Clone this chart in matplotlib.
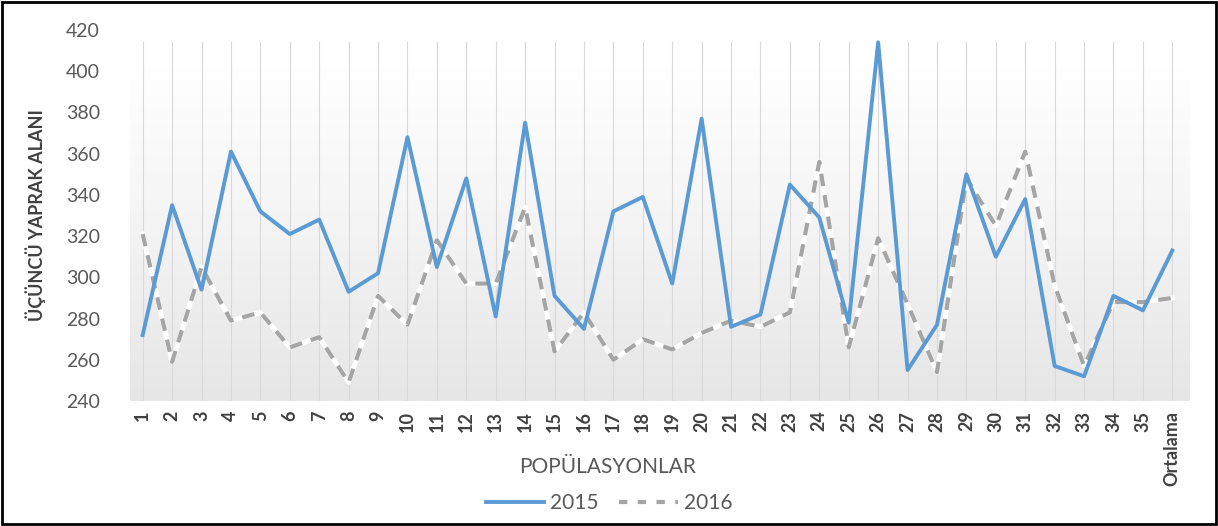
import numpy as np
import matplotlib
matplotlib.use("Agg")
import matplotlib.pyplot as plt
from matplotlib.patches import Rectangle
from matplotlib.lines import Line2D
from matplotlib.colors import LinearSegmentedColormap

categories = [str(i) for i in range(1, 36)] + ["Ortalama"]
y2015 = [272, 335, 294, 361, 332, 321, 328, 293, 302, 368, 305, 348,
         281, 375, 291, 275, 332, 339, 297, 377, 276, 282, 345, 329,
         278, 414, 255, 277, 350, 310, 338, 257, 252, 291, 284, 313]
y2016 = [321, 259, 305, 279, 283, 266, 271, 249, 291, 277, 318, 297,
         297, 334, 264, 283, 260, 270, 265, 273, 279, 276, 283, 356,
         266, 319, 287, 254, 348, 325, 361, 296, 257, 288, 288, 290]
yticks = [240, 260, 280, 300, 320, 340, 360, 380, 400, 420]

plt.rcParams["font.family"] = ["Lato", "DejaVu Sans"]

fig = plt.figure(figsize=(12.18, 5.26), dpi=100)
ax = fig.add_axes([0.107, 0.2376, 0.870, 0.7054])
x = np.arange(len(categories))

# gradient background (plot area)
grad = np.linspace(0, 1, 256).reshape(-1, 1)
cmap = LinearSegmentedColormap.from_list("g", [(0, "#e6e6e6"), (0.6, "#f6f6f6"), (1.0, "#ffffff")])
ax.imshow(grad, extent=[0, 1, 0, 0.905], transform=ax.transAxes, origin="lower",
          aspect="auto", cmap=cmap, zorder=0)

for xi in x:
    ax.plot([xi, xi], [240, 414], color="#d9d9d9", lw=0.8, zorder=1)

ax.plot(x, y2016, color="white", lw=3.5, zorder=2)
ax.plot(x, y2016, color="#a5a5a5", lw=3, ls=(0, (3, 2.2)), zorder=3)
ax.plot(x, y2015, color="#5b9bd5", lw=2.8, zorder=4)

ax.set_xlim(-0.42, 35.6)
ax.set_ylim(240, 420)
ax.set_yticks(yticks)
ax.set_yticklabels([str(v) for v in yticks], fontsize=14, color="#595959")
ax.set_xticks(x)
ax.set_xticklabels(categories, rotation=90, fontsize=13, color="#404040", fontweight="bold")
ax.tick_params(axis="x", length=0, pad=7)
ax.tick_params(axis="y", length=0, pad=22)
for s in ax.spines.values():
    s.set_visible(False)

ax.set_ylabel("ÜÇÜNCÜ YAPRAK ALANI", fontsize=13, fontweight="bold", color="#404040", labelpad=14)
fig.text(0.499, 0.112, "POPÜLASYONLAR", ha="center", va="center", fontsize=15, color="#595959")

handles = [Line2D([], [], color="#5b9bd5", lw=2.8),
           Line2D([], [], color="#a5a5a5", lw=3, ls=(0, (2, 2.5)))]
fig.legend(handles, ["2015", "2016"], loc="center", bbox_to_anchor=(0.5, 0.044), ncol=2,
           frameon=False, fontsize=15, handlelength=2.8, columnspacing=1.0, handletextpad=0.3,
           labelcolor="#595959")

fig.patches.append(Rectangle((0.002, 0.004), 0.996, 0.992, transform=fig.transFigure,
                             fill=False, edgecolor="black", lw=2))
fig.savefig("out.png", dpi=100)
